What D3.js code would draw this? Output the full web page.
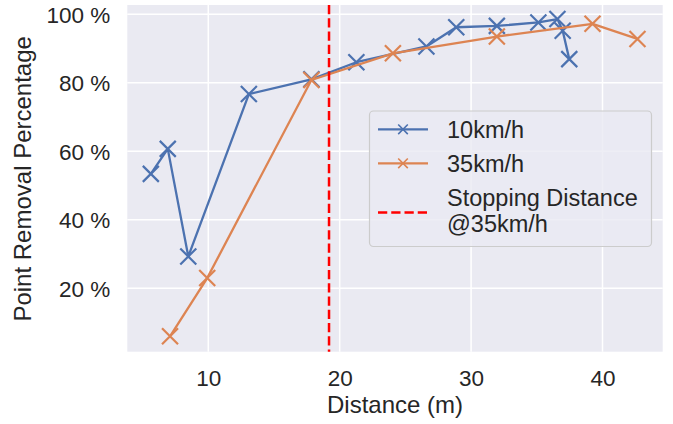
<!DOCTYPE html>
<html><head><meta charset="utf-8">
<script src="https://cdn.jsdelivr.net/npm/d3@7"></script>
<style>html,body{margin:0;padding:0;background:#fff;}svg{display:block;font-family:"Liberation Sans",Arial,sans-serif;}</style>
</head><body>
<svg id="chart" width="673" height="424"></svg>
<script>
const blueX = [5.63, 6.92, 8.48, 13.09, 17.85, 21.27, 26.6, 28.87, 31.96, 35.12, 36.57, 36.97, 37.47];
const blueY = [53.4, 60.7, 29.3, 76.7, 81.0, 86.0, 90.6, 96.2, 96.6, 97.6, 98.6, 95.2, 86.9];
const orangeX = [7.09, 9.92, 17.85, 24.05, 31.96, 39.24, 42.66];
const orangeY = [6.0, 23.0, 80.8, 88.6, 93.5, 97.2, 92.8];
const stopDistance = 19.19;
const xTicks = [10, 20, 30, 40];
const yTicks = [20, 40, 60, 80, 100];
const seriesNames = ["10km/h", "35km/h"];
const stopLabel = ["Stopping Distance", "@35km/h"];

const svg = d3.select("#chart");
const L = 127.3, R = 662.7, T = 5, B = 351.7;
const x = d3.scaleLinear().domain([3.84, 44.58]).range([L, R]);
const y = d3.scaleLinear().domain([1.5, 102.7]).range([B, T]);
const textCol = "#262626";
const colors = ["#4c72b0", "#dd8452"];

svg.append("rect").attr("x", L).attr("y", T).attr("width", R - L).attr("height", B - T).attr("fill", "#eaeaf2");

// grid
svg.append("g").selectAll("line").data(xTicks).join("line")
  .attr("x1", d => x(d)).attr("x2", d => x(d)).attr("y1", T).attr("y2", B)
  .attr("stroke", "#fff").attr("stroke-width", 1.5);
svg.append("g").selectAll("line").data(yTicks).join("line")
  .attr("y1", d => y(d)).attr("y2", d => y(d)).attr("x1", L).attr("x2", R)
  .attr("stroke", "#fff").attr("stroke-width", 1.5);

// axes via d3 axis
const xAxis = svg.append("g").attr("transform", `translate(0,${B})`)
  .call(d3.axisBottom(x).tickValues(xTicks).tickSize(0).tickPadding(0));
xAxis.select(".domain").remove();
xAxis.selectAll("text").attr("dy", null).attr("y", 34).attr("font-size", 22.5).attr("fill", textCol)
  .attr("font-family", "Liberation Sans, Arial, sans-serif");

const yAxis = svg.append("g").attr("transform", `translate(${L},0)`)
  .call(d3.axisLeft(y).tickValues(yTicks).tickFormat(d => d + " %").tickSize(0).tickPadding(0));
yAxis.select(".domain").remove();
yAxis.selectAll("text").attr("x", -17).attr("dy", "0.35em").attr("font-size", 22.5).attr("fill", textCol)
  .attr("font-family", "Liberation Sans, Arial, sans-serif");

svg.append("text").attr("x", (L + R) / 2).attr("y", 413).attr("text-anchor", "middle")
  .attr("font-size", 24).attr("fill", textCol).text("Distance (m)");
svg.append("text").attr("transform", `translate(30.5,${(T + B) / 2 + 0.5}) rotate(-90)`).attr("text-anchor", "middle")
  .attr("font-size", 24).attr("fill", textCol).text("Point Removal Percentage");

// series
function xMarker(g, cx, cy, s, col, w) {
  g.append("path").attr("d", `M${cx - s},${cy - s}L${cx + s},${cy + s}M${cx - s},${cy + s}L${cx + s},${cy - s}`)
    .attr("stroke", col).attr("stroke-width", w).attr("fill", "none");
}
const series = [
  {xs: blueX, ys: blueY, color: colors[0]},
  {xs: orangeX, ys: orangeY, color: colors[1]}
];
const line = d3.line().x(d => x(d[0])).y(d => y(d[1]));
series.forEach(s => {
  const pts = s.xs.map((v, i) => [v, s.ys[i]]);
  const g = svg.append("g");
  g.append("path").datum(pts).attr("d", line).attr("fill", "none").attr("stroke", s.color)
    .attr("stroke-width", 2.3).attr("stroke-linejoin", "round");
  pts.forEach(p => xMarker(g, x(p[0]), y(p[1]), 8, s.color, 2.2));
});

// stopping distance
svg.append("line").attr("x1", x(stopDistance)).attr("x2", x(stopDistance)).attr("y1", T).attr("y2", B)
  .attr("stroke", "#ff0000").attr("stroke-width", 2.5).attr("stroke-dasharray", "9.25,4");

// legend
const lg = svg.append("g");
lg.append("rect").attr("x", 369.5).attr("y", 111).attr("width", 282).attr("height", 135.5).attr("rx", 4)
  .attr("fill", "#eaeaf2").attr("fill-opacity", 0.8).attr("stroke", "#cccccc").attr("stroke-width", 1.2);
const rows = [129.3, 163.3];
seriesNames.forEach((n, i) => {
  lg.append("line").attr("x1", 378).attr("x2", 428).attr("y1", rows[i]).attr("y2", rows[i])
    .attr("stroke", colors[i]).attr("stroke-width", 2.3);
  xMarker(lg, 403, rows[i], 4.8, colors[i], 1.6);
  lg.append("text").attr("x", 447).attr("y", rows[i] + 8.4).attr("font-size", 23.5).attr("fill", textCol).text(n);
});
lg.append("line").attr("x1", 378).attr("x2", 428).attr("y1", 212.5).attr("y2", 212.5)
  .attr("stroke", "#ff0000").attr("stroke-width", 2.5).attr("stroke-dasharray", "9.25,4");
stopLabel.forEach((t, i) => {
  lg.append("text").attr("x", 447).attr("y", 206 + i * 25.7).attr("font-size", 23.5).attr("fill", textCol).text(t);
});
</script>
</body></html>
